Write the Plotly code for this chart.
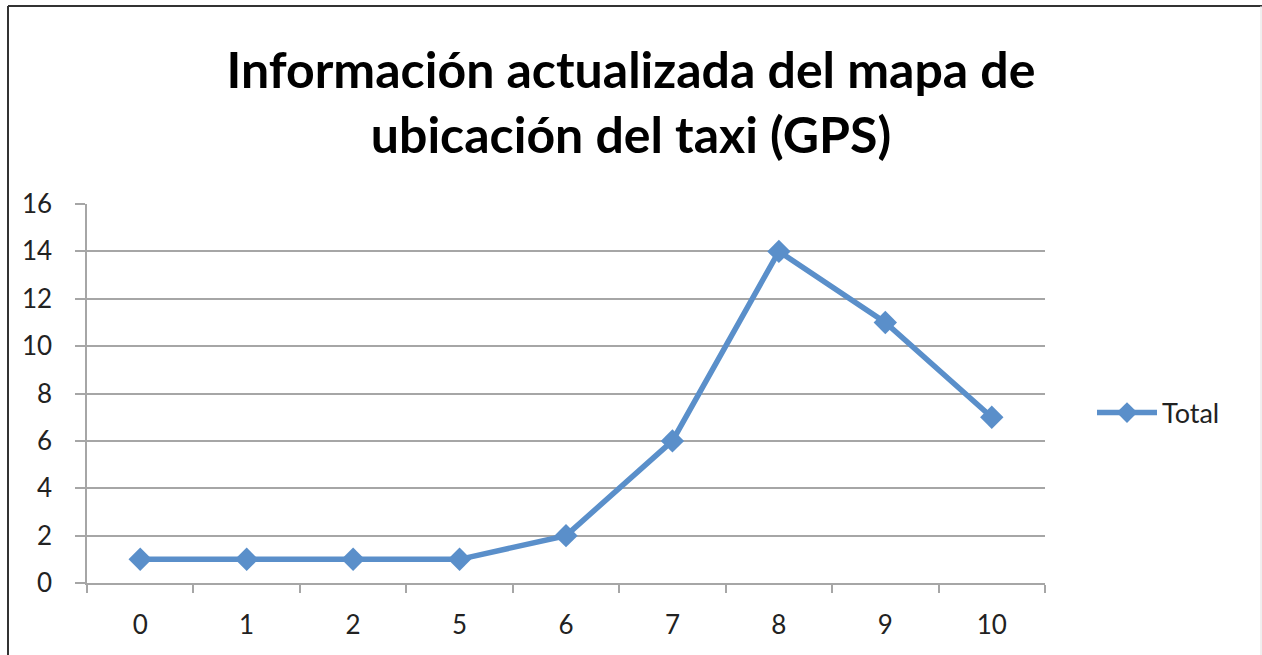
import plotly.graph_objects as go

categories = ["0", "1", "2", "5", "6", "7", "8", "9", "10"]
totals = [1, 1, 1, 1, 2, 6, 14, 11, 7]
series_name = "Total"
title_text = "Información actualizada del mapa de<br>ubicación del taxi (GPS)"

W, H = 1262, 655
L, R, T, B = 87, 1045, 204, 583
pw, ph = R - L, B - T

def px(x):
    return (x - L) / pw

def py(y):
    return (B - y) / ph

blue = "#5A8FCA"
grid = "#A6A6A6"
font = "Lato"

fig = go.Figure()
fig.add_trace(go.Scatter(
    x=categories, y=totals, name=series_name, mode="lines+markers",
    line=dict(color=blue, width=5.5),
    marker=dict(symbol="diamond", size=18, color=blue),
))

fig.update_layout(
    width=W, height=H,
    margin=dict(l=L, r=W - R, t=T, b=H - B, pad=0),
    paper_bgcolor="white", plot_bgcolor="white",
    font=dict(family=font, color="#222222", size=26),
    title=dict(text=title_text, x=0.5, xref="container", xanchor="center",
               y=1 - 88 / H, yref="container", yanchor="middle",
               font=dict(family=font, size=50, color="#000000", weight="bold")),
    showlegend=True,
    legend=dict(x=px(1092), xanchor="left", y=py(413), yanchor="middle",
                font=dict(size=27, color="#222222"), itemwidth=60,
                bgcolor="rgba(0,0,0,0)"),
    xaxis=dict(type="category", range=[-0.5, len(categories) - 0.5],
               tickson="boundaries", ticks="outside", ticklen=8, tickwidth=1.5,
               tickcolor=grid, showline=True, linecolor=grid, linewidth=1.5,
               showgrid=False, ticklabelstandoff=18, fixedrange=True),
    yaxis=dict(range=[0, 16], dtick=2, ticks="outside", ticklen=10, tickwidth=1.5,
               tickcolor=grid, showline=True, linecolor=grid, linewidth=1.5,
               showgrid=True, gridcolor=grid, gridwidth=1.5, zeroline=False,
               ticklabelstandoff=18, fixedrange=True),
    shapes=[
        dict(type="line", xref="paper", yref="paper", x0=px(8), x1=px(1262),
             y0=py(6), y1=py(6), line=dict(color="#333333", width=2)),
        dict(type="line", xref="paper", yref="paper", x0=px(8), x1=px(8),
             y0=py(6), y1=py(660), line=dict(color="#333333", width=2)),
        dict(type="line", xref="paper", yref="paper", x0=px(1261), x1=px(1261),
             y0=py(6), y1=py(660), line=dict(color="#E0E0E0", width=1)),
    ],
)

fig.write_html("out.html", config={"displayModeBar": False},
               post_script="document.body.style.margin='0';")
